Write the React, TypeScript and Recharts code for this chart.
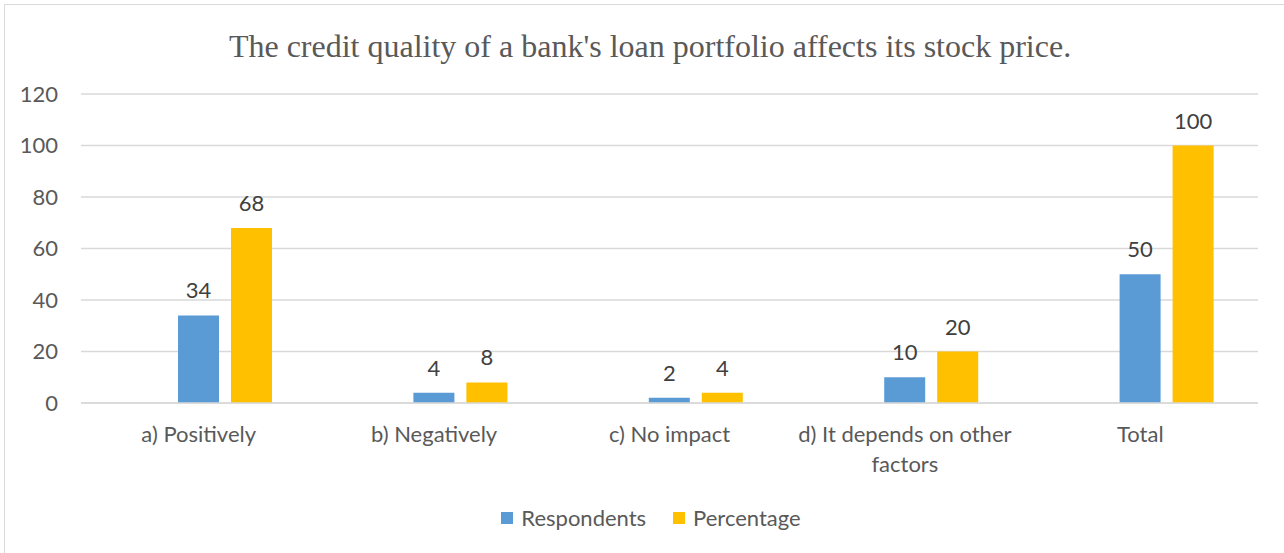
import React from "react";
import { BarChart, Bar, XAxis, YAxis, CartesianGrid, LabelList } from "recharts";

const categories = ["a) Positively", "b) Negatively", "c) No impact", "d) It depends on other factors", "Total"];
const respondents = [34, 4, 2, 10, 50];
const percentage = [68, 8, 4, 20, 100];
const yTicks = [0, 20, 40, 60, 80, 100, 120];
const title = "The credit quality of a bank's loan portfolio affects its stock price.";
const seriesInfo = [
  { key: "respondents", name: "Respondents", color: "#5B9BD5" },
  { key: "percentage", name: "Percentage", color: "#FFC000" },
];

// Excel's source reserves an empty (hidden) first series slot in each category
const data = categories.map((c, i) => ({ name: c, blank: null, respondents: respondents[i], percentage: percentage[i] }));

const FONT = "Lato, 'Noto Sans', sans-serif";
const FS = 22;

let measureCtx: CanvasRenderingContext2D | null = null;
function wrap(text: string, maxW: number): string[] {
  if (!measureCtx) {
    const c = document.createElement("canvas");
    measureCtx = c.getContext("2d");
  }
  const ctx = measureCtx!;
  ctx.font = `${FS}px Lato`;
  const words = text.split(" ");
  const lines: string[] = [];
  let cur = "";
  for (const w of words) {
    const test = cur ? cur + " " + w : w;
    if (cur && ctx.measureText(test).width > maxW) {
      lines.push(cur);
      cur = w;
    } else {
      cur = test;
    }
  }
  if (cur) lines.push(cur);
  return lines;
}

const XTick = (props: any) => {
  const { x, y, payload } = props;
  const lines = wrap(String(payload.value), 226);
  return (
    <text x={x} y={y} textAnchor="middle" fill="#595959" style={{ fontFamily: FONT, fontSize: FS }}>
      {lines.map((l, i) => (
        <tspan key={i} x={x} y={y + 39 + i * 30}>
          {l}
        </tspan>
      ))}
    </text>
  );
};

export default function App() {
  return (
    <div style={{ position: "absolute", left: 0, top: 0, width: 1284, height: 553, background: "#fff", overflow: "hidden" }}>
      <div style={{ position: "absolute", left: 4, top: 4, width: 1400, height: 700, border: "1px solid #D9D9D9" }} />
      <div
        style={{
          position: "absolute",
          left: 0,
          top: 28,
          width: 1300,
          textAlign: "center",
          fontFamily: "'Liberation Serif', 'Times New Roman', serif",
          fontSize: 32,
          color: "#595959",
          lineHeight: "36px",
          whiteSpace: "nowrap",
        }}
      >
        {title}
      </div>
      <div style={{ position: "absolute", left: 0, top: 0 }}>
        <BarChart
          width={1284}
          height={553}
          data={data}
          margin={{ top: 94, right: 26, bottom: 90, left: 0 }}
          barGap={12}
          barSize={41}
        >
          <CartesianGrid vertical={false} stroke="#D9D9D9" strokeWidth={1.5} />
          <XAxis
            dataKey="name"
            axisLine={{ stroke: "#D9D9D9", strokeWidth: 1.5 }}
            tickLine={false}
            tickSize={0}
            tickMargin={0}
            height={60}
            tick={<XTick />}
            interval={0}
          />
          <YAxis
            domain={[0, 120]}
            ticks={yTicks}
            width={81}
            axisLine={false}
            tickLine={false}
            tickSize={0}
            tickMargin={23}
            tick={{ fill: "#595959", fontSize: FS, fontFamily: FONT }}
            interval={0}
          />
          <Bar dataKey="blank" fill="none" isAnimationActive={false} legendType="none" />
          {seriesInfo.map((s) => (
            <Bar key={s.key} dataKey={s.key} name={s.name} fill={s.color} isAnimationActive={false}>
              <LabelList
                dataKey={s.key}
                position="top"
                offset={17}
                fill="#404040"
                style={{ fontFamily: FONT, fontSize: FS }}
              />
            </Bar>
          ))}
        </BarChart>
      </div>
      <div
        style={{
          position: "absolute",
          left: 0,
          top: 505,
          width: 1302,
          display: "flex",
          justifyContent: "center",
          fontFamily: FONT,
          fontSize: FS,
          color: "#595959",
          lineHeight: "26px",
        }}
      >
        {seriesInfo.map((s, i) => (
          <div key={s.key} style={{ display: "flex", alignItems: "center", marginLeft: i ? 27 : 0 }}>
            <div style={{ width: 12, height: 12, background: s.color, marginRight: 8 }} />
            <span>{s.name}</span>
          </div>
        ))}
      </div>
    </div>
  );
}
